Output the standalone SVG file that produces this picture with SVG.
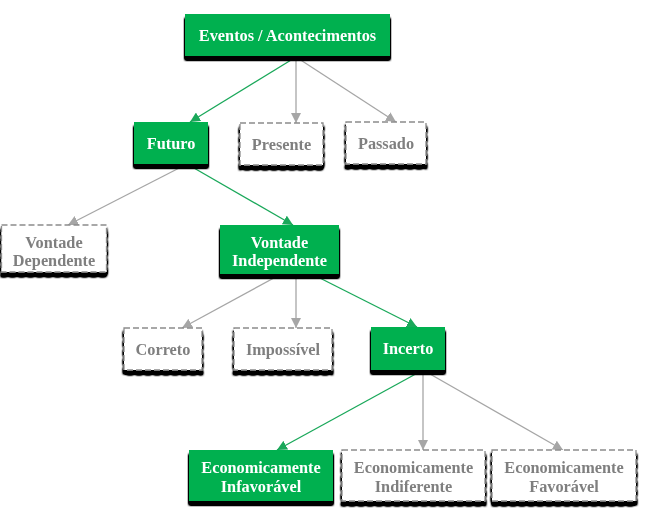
<svg xmlns="http://www.w3.org/2000/svg" width="647" height="517" viewBox="0 0 647 517">
<style>
.g{fill:#00b050;}
.d{fill:#ffffff;stroke:#8c8c8c;stroke-width:1.3;stroke-dasharray:6,3;}
.t{font-family:"Liberation Serif","Times New Roman",serif;font-weight:bold;font-size:16.3px;text-anchor:middle;}
.tw{fill:#ffffff;}
.tg{fill:#7f7f7f;}
.cg{stroke:#1aa85a;stroke-width:1.3;fill:none;marker-end:url(#ag);}
.cy{stroke:#a6a6a6;stroke-width:1.3;fill:none;marker-end:url(#ay);}
</style>
<defs>
<filter id="sh" x="-10%" y="-20%" width="120%" height="160%">
<feGaussianBlur in="SourceAlpha" stdDeviation="1"/>
<feOffset dx="0" dy="4" result="b"/>
<feComponentTransfer><feFuncA type="linear" slope="3"/></feComponentTransfer>
<feMerge><feMergeNode/><feMergeNode in="SourceGraphic"/></feMerge>
</filter>
<marker id="ag" viewBox="0 0 10 10" refX="10" refY="5" markerWidth="10" markerHeight="10" markerUnits="userSpaceOnUse" orient="auto">
<path d="M0,0 L10,5 L0,10 z" fill="#1aa85a"/>
</marker>
<marker id="ay" viewBox="0 0 10 10" refX="10" refY="5" markerWidth="10" markerHeight="10" markerUnits="userSpaceOnUse" orient="auto">
<path d="M0,0 L10,5 L0,10 z" fill="#a6a6a6"/>
</marker>
</defs>
<rect width="647" height="517" fill="#ffffff"/>
<g id="connectors">
<line class="cg" x1="296" y1="57" x2="190" y2="122"/>
<line class="cy" x1="296" y1="57" x2="296" y2="123"/>
<line class="cy" x1="296" y1="57" x2="396" y2="122"/>
<line class="cy" x1="187" y1="164" x2="68" y2="225"/>
<line class="cg" x1="187" y1="164" x2="293" y2="225"/>
<line class="cy" x1="296" y1="266" x2="182" y2="328"/>
<line class="cy" x1="296" y1="266" x2="296" y2="328"/>
<line class="cg" x1="296" y1="266" x2="417" y2="327"/>
<line class="cg" x1="423" y1="370" x2="277" y2="450"/>
<line class="cy" x1="423" y1="370" x2="423" y2="450"/>
<line class="cy" x1="423" y1="370" x2="563" y2="450"/>
</g>
<g id="eventos" filter="url(#sh)">
<rect class="g" x="185" y="14" width="205" height="42"/>
<text class="t tw" x="287.5" y="41">Eventos / Acontecimentos</text>
</g>
<g id="futuro" filter="url(#sh)">
<rect class="g" x="134" y="122" width="74" height="42"/>
<text class="t tw" x="171" y="149">Futuro</text>
</g>
<g id="presente" filter="url(#sh)">
<rect class="d" x="240" y="123" width="83" height="42"/>
<text class="t tg" x="281.5" y="150">Presente</text>
</g>
<g id="passado" filter="url(#sh)">
<rect class="d" x="346" y="122" width="80" height="42"/>
<text class="t tg" x="386" y="149">Passado</text>
</g>
<g id="vontade-dependente" filter="url(#sh)">
<rect class="d" x="1.5" y="225" width="105" height="47"/>
<text class="t tg" x="54" y="248">Vontade</text>
<text class="t tg" x="54" y="266">Dependente</text>
</g>
<g id="vontade-independente" filter="url(#sh)">
<rect class="g" x="220" y="225" width="119" height="49"/>
<text class="t tw" x="279.5" y="248">Vontade</text>
<text class="t tw" x="279.5" y="266">Independente</text>
</g>
<g id="correto" filter="url(#sh)">
<rect class="d" x="124" y="328" width="78" height="42"/>
<text class="t tg" x="163" y="355">Correto</text>
</g>
<g id="impossivel" filter="url(#sh)">
<rect class="d" x="234" y="328" width="98" height="42"/>
<text class="t tg" x="283" y="355">Impossível</text>
</g>
<g id="incerto" filter="url(#sh)">
<rect class="g" x="371" y="327" width="74" height="43"/>
<text class="t tw" x="408" y="354">Incerto</text>
</g>
<g id="econ-infavoravel" filter="url(#sh)">
<rect class="g" x="189" y="450" width="144" height="51"/>
<text class="t tw" x="261" y="473">Economicamente</text>
<text class="t tw" x="261" y="492">Infavorável</text>
</g>
<g id="econ-indiferente" filter="url(#sh)">
<rect class="d" x="342" y="450" width="143" height="51"/>
<text class="t tg" x="413.5" y="473">Economicamente</text>
<text class="t tg" x="413.5" y="492">Indiferente</text>
</g>
<g id="econ-favoravel" filter="url(#sh)">
<rect class="d" x="492" y="450" width="144" height="51"/>
<text class="t tg" x="564" y="473">Economicamente</text>
<text class="t tg" x="564" y="492">Favorável</text>
</g>
</svg>
